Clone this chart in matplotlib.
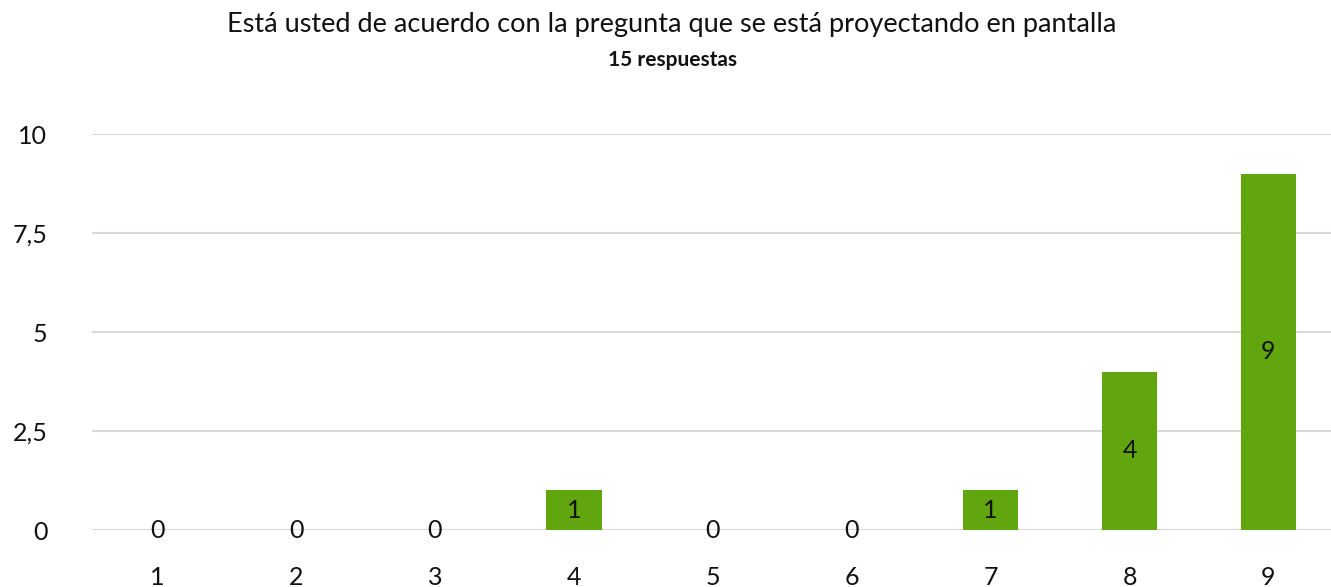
import matplotlib
matplotlib.use("Agg")
import matplotlib.pyplot as plt

# datos de la encuesta
categorias = ["1", "2", "3", "4", "5", "6", "7", "8", "9"]
respuestas = [0, 0, 0, 1, 0, 0, 1, 4, 9]
ticks_y = [0, 2.5, 5, 7.5, 10]
etiquetas_y = ["0", "2,5", "5", "7,5", "10"]

titulo = "Está usted de acuerdo con la pregunta que se está proyectando en pantalla"
subtitulo = "15 respuestas"

plt.rcParams["font.family"] = ["Lato", "DejaVu Sans"]

fig = plt.figure(figsize=(13.31, 5.87), dpi=100)
ax = fig.add_axes([0.069, 0.0971, 0.931, 0.6746])

x = list(range(1, len(categorias) + 1))
barras = ax.bar(x, respuestas, width=0.4, color="#62a60f", zorder=3)
ax.bar_label(barras, label_type="center", fontsize=18, color="#111111")

ax.set_xlim(0.53, 9.45)
ax.set_ylim(0, 10)
ax.set_xticks(x)
ax.set_xticklabels(categorias)
ax.set_yticks(ticks_y)
ax.set_yticklabels(etiquetas_y)

ax.tick_params(axis="x", length=0, pad=26, labelsize=18, colors="#111111")
ax.tick_params(axis="y", length=0, pad=32, labelsize=18, colors="#111111")

ax.grid(axis="y", color="#d9d9d9", linewidth=1.5, zorder=0)
for s in ax.spines.values():
    s.set_visible(False)

fig.text(0.505, 0.958, titulo, ha="center", va="center", fontsize=19.5, color="#111111")
fig.text(0.505, 0.897, subtitulo, ha="center", va="center", fontsize=15,
         fontweight="bold", color="#111111")

fig.savefig("out.png", dpi=100)
